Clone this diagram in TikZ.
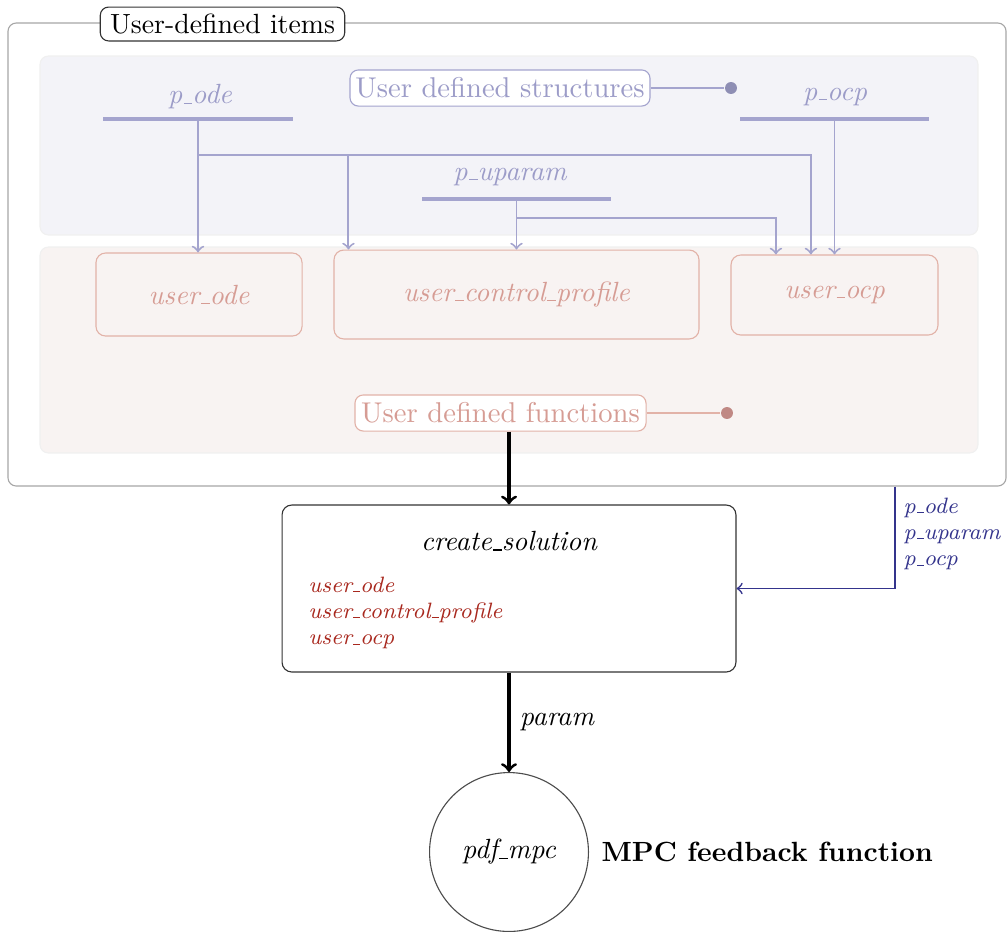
\documentclass[tikz,border=0pt]{standalone}
\usetikzlibrary{arrows,shapes,positioning,calc}
\definecolor{lavline}{RGB}{164,164,206}
\definecolor{lavtext}{RGB}{156,156,200}
\definecolor{lavdot}{RGB}{142,142,180}
\definecolor{lavfill}{RGB}{243,243,248}
\definecolor{pinkfill}{RGB}{248,243,242}
\definecolor{rosetext}{RGB}{214,156,148}
\definecolor{roseline}{RGB}{226,178,168}
\definecolor{rosedot}{RGB}{192,136,132}
\definecolor{navy}{RGB}{52,52,140}
\definecolor{darkred}{RGB}{168,40,30}
% tiret bas court, comme l'ancien \_
\newcommand{\us}{\leavevmode\kern.06em\vbox{\hrule width.3em}}
\tikzset{
  itembox/.style = {rectangle, rounded corners=3pt, draw=gray!70, thin},% cadre principal
  titlebox/.style = {rectangle, rounded corners=3pt, draw=black!80, fill=white,
    minimum width=88pt, minimum height=12.2pt, inner sep=1pt},% titre
  area_b/.style = {rounded corners=3pt, fill=lavfill, draw=black!6},% zone structures
  area_r/.style = {rounded corners=3pt, fill=pinkfill, draw=black!6},% zone fonctions
  tag_b/.style = {rectangle, rounded corners=3pt, draw=lavline, fill=white, text=lavtext,
    font=\fontsize{10.3}{12.4}\selectfont, inner sep=1pt},% etiquette bleue
  tag_r/.style = {rectangle, rounded corners=3pt, draw=roseline, fill=white, text=rosetext,
    font=\fontsize{10.3}{12.4}\selectfont, inner sep=1pt},% etiquette rouge
  par_n/.style = {text=lavtext, font=\itshape},% nom de structure
  par_bar/.style = {rectangle, fill=lavline, inner sep=0pt, minimum height=1.1pt,
    minimum width=68.2pt},% barre sous la structure
  fun_n/.style = {rectangle, rounded corners=3.5pt, draw=roseline, text=rosetext,
    font=\itshape},% fonction utilisateur
  dot_b/.style = {circle, fill=lavdot, inner sep=0pt, minimum size=4.3pt},
  dot_r/.style = {circle, fill=rosedot, inner sep=0pt, minimum size=4.3pt},
  lav_arrow/.style = {->, draw=lavline, line width=0.7pt},
  blk_arrow/.style = {->, draw=black, line width=1.1pt}
}

\begin{document}
\begin{tikzpicture}[x=0.36pt, y=-0.36pt, >=to]
\useasboundingbox (0,0) rectangle (1008,931);
% cadre et zones
\node [itembox, minimum width=359.3pt, minimum height=166.7pt] (items) at (507,254.5) {};
\draw [area_b] (40,56) rectangle (978,235);
\draw [area_r] (40,247) rectangle (978,453);
\node [titlebox] (title) at (222.5,24) {User-defined items};

% structures
\node [tag_b, minimum width=108pt, minimum height=13pt] (ustruct) at (500,88) {User defined structures};
\node [dot_b] (sdot) at (731,88) {};
\draw [lavline] (ustruct) -- (sdot);
\node [par_n] (pode) at (200,97) {p\us ode};
\node [par_bar] (podebar) at (198,119) {};
\node [par_n] (puparam) at (510,177) {p\us uparam};
\node [par_bar] (puparambar) at (516.5,199) {};
\node [par_n] (pocp) at (835,97) {p\us ocp};
\node [par_bar] (pocpbar) at (834.5,119) {};

% fonctions
\node [fun_n, minimum width=74.2pt, minimum height=29.9pt] (uode) at (199,294.5) {user\us ode};
\node [fun_n, minimum width=131.4pt, minimum height=32pt] (ucp) at (516.5,294.5) {user\us control\us profile};
\node [fun_n, minimum width=74.5pt, minimum height=28.8pt] (uocp) at (834.5,295) {user\us ocp};
\node [tag_r, minimum width=104.8pt, minimum height=13pt] (ufunc) at (500.5,413) {User defined functions};
\node [dot_r] (fdot) at (727,413) {};
\draw [roseline] (ufunc) -- (fdot);

% liens structures -> fonctions
\draw [lav_arrow] (podebar.center) -- (podebar.center |- uode.north);
\draw [lav_arrow] (podebar.center) ++(0,36) -| ([xshift=5.4pt]ucp.north west);
\draw [lav_arrow] (podebar.center) ++(0,36) -| ([xshift=-8.5pt]uocp.north);
\draw [lav_arrow] (puparambar.center) -- (puparambar.center |- ucp.north);
\draw [lav_arrow] (puparambar.center) ++(0,19) -| ([xshift=-21.1pt]uocp.north);
\draw [lav_arrow] (pocpbar.center) -- (pocpbar.center |- uocp.north);

% create_solution
\node [rectangle, rounded corners=3.5pt, draw=black!80, minimum width=163.4pt,
  minimum height=60.1pt] (csol) at (509,588.5) {};
\node (csoltitle) at (509,541) {\itshape create\us solution};
\node [anchor=north west, align=left, text=darkred, inner sep=0pt,
  font=\footnotesize\itshape] (csollist) at (308,576) {user\us ode\\user\us control\us profile\\user\us ocp};
\draw [blk_arrow] (ufunc.south -| csol.north) -- (csol.north);
\draw [->, navy, semithick] ($(items.south)+(388,0)$) |- (csol.east);
\node [anchor=north west, align=left, text=navy, inner sep=0pt,
  font=\footnotesize\itshape] (plist) at (903,497) {p\us ode\\p\us uparam\\p\us ocp};

% pdf_mpc
\node [circle, draw=black!70, minimum size=57.2pt, inner sep=0pt] (pdf) at (509,852) {\itshape pdf\us mpc};
\node [right=1pt of pdf, font=\bfseries] (mpc) {MPC feedback function};
\draw [blk_arrow] (csol) -- node [right] {\itshape param} (pdf);
\end{tikzpicture}
\end{document}
